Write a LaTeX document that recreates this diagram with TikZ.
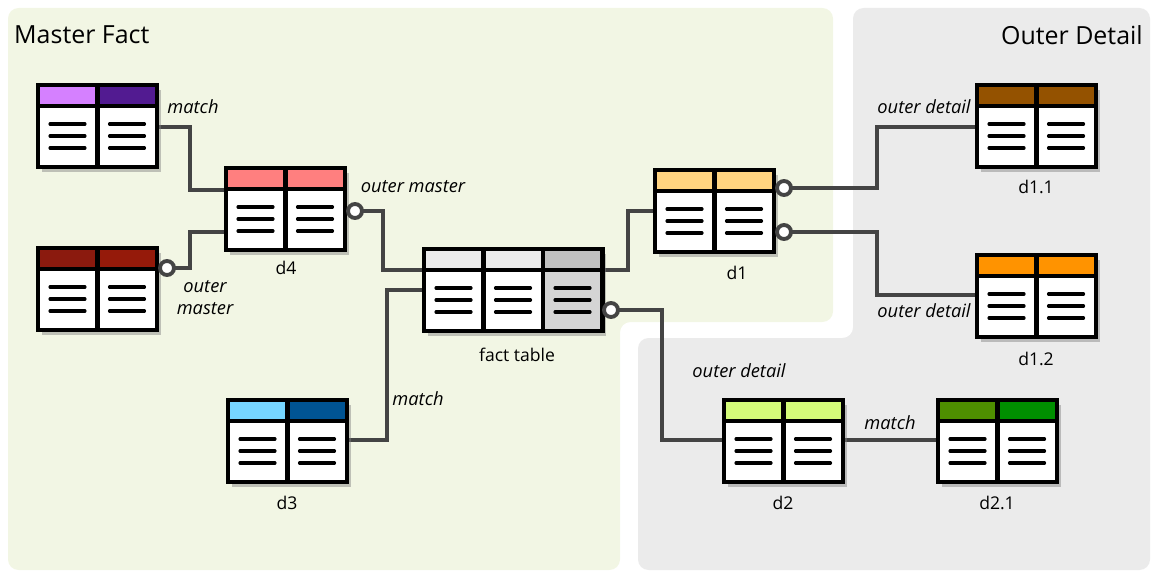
\documentclass[tikz,border=0pt]{standalone}
\usepackage{fontspec}
\setmainfont{Open Sans}
\usetikzlibrary{shadows,calc}
\definecolor{mfbg}{HTML}{F2F6E4}
\definecolor{odbg}{HTML}{EBEBEB}
\definecolor{conn}{HTML}{444444}
\definecolor{cA}{HTML}{D580FF}
\definecolor{cB}{HTML}{521B91}
\definecolor{cC}{HTML}{8B1A0E}
\definecolor{cD}{HTML}{951A0A}
\definecolor{cE}{HTML}{FF7F7F}
\definecolor{cF}{HTML}{EBEBEB}
\definecolor{cG}{HTML}{C0C0C0}
\definecolor{cGb}{HTML}{D4D4D4}
\definecolor{cH}{HTML}{76D6FF}
\definecolor{cI}{HTML}{005493}
\definecolor{cJ}{HTML}{FFD480}
\definecolor{cK}{HTML}{945200}
\definecolor{cL}{HTML}{FF9300}
\definecolor{cM}{HTML}{D4FB79}
\definecolor{cN}{HTML}{4E8F00}
\definecolor{cO}{HTML}{008F00}
\tikzset{
  tbl/.style={draw=black, line width=2.3pt, fill=white, minimum height=1.64cm,
    inner sep=0pt, drop shadow={shadow xshift=0.08cm, shadow yshift=-0.1cm, opacity=0.45}},
  grid/.style={draw=black, line width=2.3pt},
  row/.style={line width=1.8pt, line cap=round},
  link/.style={draw=conn, line width=2.2pt},
  opt/.style={draw=conn, line width=2.2pt, fill=white},
  lbl/.style={font=\fontsize{10.4pt}{12.5pt}\selectfont\itshape},
  tname/.style={font=\fontsize{10pt}{12pt}\selectfont},
  title/.style={font=\fontsize{14.2pt}{17pt}\selectfont}
}
% name, left, top, ncols, colours
\newcommand\dbtab[5]{%
  \node[tbl, minimum width=#4*1.19cm] (#1) at (#2+#4*29.75,#3+41) {};
  \foreach \c [count=\i from 0] in {#5}{
    \fill[\c] (#2+\i*59.5,#3) rectangle (#2+\i*59.5+59.5,#3+21);
  }
  \ifnum#4=3 \fill[cGb] (#2+119,#3+21) rectangle (#2+178.5,#3+82);\fi
  \foreach \i in {1,...,#4}{
    \foreach \yy in {39,51,63}
      \draw[row] (#2+\i*59.5-47.5,#3+\yy) -- (#2+\i*59.5-12.5,#3+\yy);
  }
  \draw[grid] (#2,#3+21) -- (#2+#4*59.5,#3+21);
  \foreach \i in {1,...,#4}{
    \ifnum\i<#4 \draw[grid] (#2+\i*59.5,#3) -- (#2+\i*59.5,#3+82);\fi
  }
  \draw[grid] (#2,#3) rectangle (#2+#4*59.5,#3+82);
}
\begin{document}
\begin{tikzpicture}[x=0.02cm, y=-0.02cm]
\useasboundingbox (0,0) rectangle (1158,577);
% regions
\fill[mfbg, rounded corners=6pt] (8,8) -- (833,8) -- (833,322) -- (620,322) -- (620,570) -- (8,570) -- cycle;
\fill[odbg, rounded corners=6pt] (853,8) -- (1150,8) -- (1150,570) -- (638,570) -- (638,338) -- (853,338) -- cycle;
\node[title, anchor=west] (tmf) at (8,35) {Master Fact};
\node[title, anchor=east] (tod) at (1149,35) {Outer Detail};

% connector ends
\coordinate (cm2) at (167,268);
\coordinate (cd4) at (355,211);
\coordinate (cft) at (611,310);
\coordinate (cd1a) at (784,188);
\coordinate (cd1b) at (784,232);

\draw[link] (157,127) -- (190,127) -- (190,190) -- (226,190);
\draw[link] (cm2) -- (190,268) -- (190,232) -- (226,232);
\draw[link] (cd4) -- (383,211) -- (383,270) -- (424,270);
\draw[link] (347,440) -- (387,440) -- (387,290) -- (424,290);
\draw[link] (601,270) -- (628,270) -- (628,211) -- (655,211);
\draw[link] (cft) -- (662,310) -- (662,440) -- (724,440);
\draw[link] (cd1a) -- (877,188) -- (877,127) -- (977,127);
\draw[link] (cd1b) -- (877,232) -- (877,295) -- (977,295);
\draw[link] (843,440) -- (938,440);

% tables
\dbtab{m1}{38}{85}{2}{cA,cB}
\dbtab{m2}{38}{248}{2}{cC,cD}
\dbtab{d4}{226}{168}{2}{cE,cE}
\dbtab{ft}{424}{249}{3}{cF,cF,cG}
\dbtab{d3}{228}{400}{2}{cH,cI}
\dbtab{d1}{655}{170}{2}{cJ,cJ}
\dbtab{d11}{977}{85}{2}{cK,cK}
\dbtab{d12}{977}{255}{2}{cL,cL}
\dbtab{d2}{724}{400}{2}{cM,cM}
\dbtab{d21}{938}{400}{2}{cN,cO}

% optional markers
\foreach \p in {cm2,cd4,cft,cd1a,cd1b}
  \draw[opt] (\p) circle (0.14cm);

% captions
\node[tname] (l4) at (286,268) {d4};
\node[tname] (l3) at (287,503) {d3};
\node[tname] (lf) at (517,355) {fact table};
\node[tname] (l1) at (737,273) {d1};
\node[tname] (l11) at (1036,187) {d1.1};
\node[tname] (l12) at (1036,359) {d1.2};
\node[tname] (l2) at (783,503) {d2};
\node[tname] (l21) at (997,503) {d2.1};

% link labels
\node[lbl] (a1) at (193,107) {match};
\node[lbl] (a2) at (413,187) {outer master};
\node[lbl, align=center] (a3) at (205,298) {outer\\master};
\node[lbl] (a4) at (418,399) {match};
\node[lbl] (a5) at (924,107) {outer detail};
\node[lbl] (a6) at (924,311) {outer detail};
\node[lbl] (a7) at (739,371) {outer detail};
\node[lbl] (a8) at (890,423) {match};
\end{tikzpicture}
\end{document}
